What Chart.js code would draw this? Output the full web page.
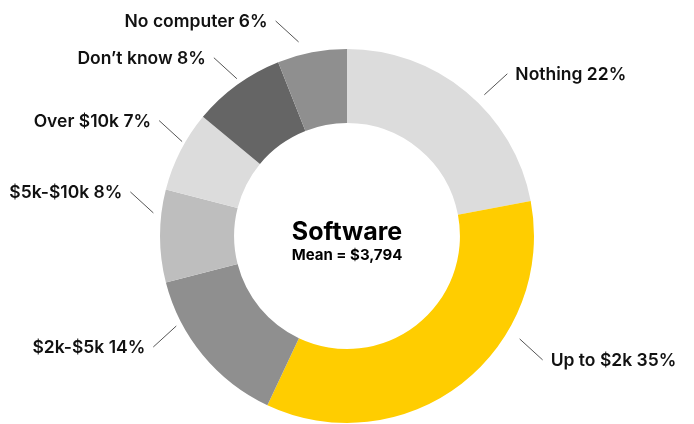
<!DOCTYPE html>
<html>
<head>
<meta charset="utf-8">
<title>Software spend</title>
<script src="https://cdn.jsdelivr.net/npm/chart.js@4/dist/chart.umd.min.js"></script>
<style>
  html, body { margin: 0; padding: 0; background: #fff; }
  #wrap { width: 694px; height: 424px; }
</style>
</head>
<body>
<div id="wrap"><canvas id="softwareChart" width="694" height="424"></canvas></div>
<script>
// Share of respondents by planned software spend (percent)
var categories = ['Nothing', 'Up to $2k', '$2k-$5k', '$5k-$10k', 'Over $10k', 'Don\u2019t know', 'No computer'];
var shares = [22, 35, 14, 8, 7, 8, 6];
var sliceColors = ['#dcdcdc', '#ffcd00', '#8f8f8f', '#bebebe', '#dcdcdc', '#656565', '#8f8f8f'];

var centerTitle = 'Software';
var centerSubtitle = 'Mean = $3,794';

// callouts are nudged off each slice's middle so they don't crowd (degrees),
// and start a little way out from the ring (px)
var labelNudge = [4.6, -21.4, 11.8, 6.8, 2.8, 1, -3.2];
var labelStandoff = [10, 14, 6, 8, 3, 5, 13];

var fontStack = '"Helvetica Neue", Inter, "Liberation Sans", sans-serif';

var calloutPlugin = {
    id: 'callouts',
    afterDatasetsDraw: function(chart) {
        var ctx = chart.ctx;
        var arcs = chart.getDatasetMeta(0).data;

        ctx.save();
        arcs.forEach(function(arc, i) {
            var p = arc.getProps(['x', 'y', 'startAngle', 'endAngle', 'outerRadius'], true);
            var angle = (p.startAngle + p.endAngle) / 2 + labelNudge[i] * Math.PI / 180;
            var cos = Math.cos(angle);
            var sin = Math.sin(angle);
            var r0 = p.outerRadius + labelStandoff[i];
            var x0 = p.x + cos * r0;
            var y0 = p.y + sin * r0;
            var sx = cos >= 0 ? 1 : -1;
            var sy = sin >= 0 ? 1 : -1;
            var x1 = x0 + sx * 23;
            var y1 = y0 + sy * 21;

            // diagonal leader line
            ctx.strokeStyle = '#555555';
            ctx.lineWidth = 1;
            ctx.beginPath();
            ctx.moveTo(x0, y0);
            ctx.lineTo(x1, y1);
            ctx.stroke();

            ctx.fillStyle = '#111111';
            ctx.font = '600 17.5px ' + fontStack;
            ctx.textBaseline = 'middle';
            ctx.textAlign = sx > 0 ? 'left' : 'right';
            ctx.fillText(categories[i] + ' ' + shares[i] + '%', x1 + sx * 8, y1 + 1);
        });

        // title in the hole
        var c = arcs[0];
        ctx.fillStyle = '#000000';
        ctx.textAlign = 'center';
        ctx.textBaseline = 'middle';
        ctx.font = 'bold 25px ' + fontStack;
        ctx.fillText(centerTitle, c.x, c.y - 4);
        ctx.font = 'bold 15px ' + fontStack;
        ctx.fillText(centerSubtitle, c.x, c.y + 19);
        ctx.restore();
    }
};

new Chart(document.getElementById('softwareChart'), {
    type: 'doughnut',
    data: {
        labels: categories,
        datasets: [{
            data: shares,
            backgroundColor: sliceColors,
            borderWidth: 0
        }]
    },
    options: {
        responsive: false,
        animation: false,
        devicePixelRatio: 1,
        cutout: '60.4%',
        layout: {
            padding: { top: 49, bottom: 1, left: 0, right: 0 }
        },
        plugins: {
            legend: { display: false },
            tooltip: { enabled: false }
        }
    },
    plugins: [calloutPlugin]
});
</script>
</body>
</html>
